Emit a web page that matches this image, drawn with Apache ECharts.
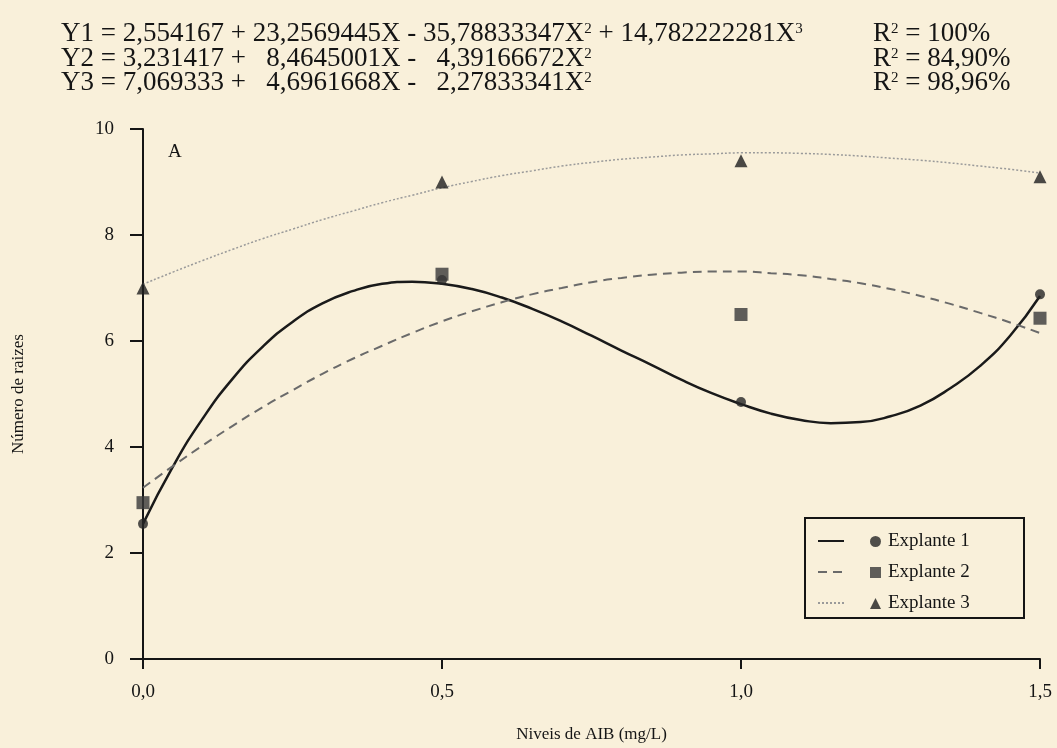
<!DOCTYPE html>
<html>
<head>
<meta charset="utf-8">
<script src="https://cdn.jsdelivr.net/npm/echarts@6/dist/echarts.min.js"></script>
<style>
html,body{margin:0;padding:0;background:#f9f0da;}
#c{width:1057px;height:748px;}
</style>
</head>
<body>
<div id="c"></div>
<script>
// Observed points
const levels = [0.0, 0.5, 1.0, 1.5];
const explante1 = [2.55, 7.15, 4.85, 6.88];
const explante2 = [2.95, 7.26, 6.5, 6.43];
const explante3 = [7.0, 9.0, 9.4, 9.1];
// Fitted curves, every 0.05
const fitX = [0.00,0.05,0.10,0.15,0.20,0.25,0.30,0.35,0.40,0.45,0.50,0.55,0.60,0.65,0.70,0.75,
              0.80,0.85,0.90,0.95,1.00,1.05,1.10,1.15,1.20,1.25,1.30,1.35,1.40,1.45,1.50];
const curve1 = [2.55,3.63,4.54,5.29,5.89,6.36,6.71,6.94,7.08,7.12,7.08,6.98,6.82,6.61,6.37,6.10,
                5.82,5.55,5.27,5.02,4.81,4.63,4.51,4.45,4.47,4.58,4.78,5.11,5.53,6.10,6.85];
const curve2 = [3.23,3.64,4.03,4.40,4.75,5.07,5.38,5.66,5.91,6.15,6.37,6.56,6.73,6.88,7.00,7.11,
                7.19,7.25,7.29,7.31,7.31,7.28,7.24,7.17,7.09,6.98,6.85,6.70,6.53,6.35,6.15];
const curve3 = [7.07,7.30,7.52,7.73,7.93,8.11,8.29,8.45,8.61,8.75,8.89,9.01,9.12,9.21,9.30,9.37,
                9.43,9.47,9.51,9.53,9.55,9.55,9.54,9.52,9.49,9.45,9.41,9.36,9.30,9.24,9.17];
const yTicks = [0, 2, 4, 6, 8, 10];
const xTicks = ['0,0', '0,5', '1,0', '1,5'];
const seriesNames = ['Explante 1', 'Explante 2', 'Explante 3'];
const equations = [
  'Y1 = 2,554167 + 23,2569445X - 35,78833347X{s|2} + 14,782222281X{s|3}',
  'Y2 = 3,231417 +   8,4645001X -   4,39166672X{s|2}',
  'Y3 = 7,069333 +   4,6961668X -   2,27833341X{s|2}'
];
const r2 = ['R{s|2} = 100%', 'R{s|2} = 84,90%', 'R{s|2} = 98,96%'];

const pair = (xs, ys) => xs.map((x, i) => [x, ys[i]]);
const serif = '"Liberation Serif", "DejaVu Serif", serif';
const ink = '#151515';
const richSup = {s: {fontSize: 15, fontFamily: serif, color: ink, verticalAlign: 'top', lineHeight: 24.5}};

const chart = echarts.init(document.getElementById('c'));
chart.setOption({
  backgroundColor: '#f9f0da',
  animation: false,
  textStyle: {fontFamily: serif, color: ink},
  title: [
    {left: 61, top: 22, padding: 0, text: equations.join('\n'),
     textStyle: {fontFamily: serif, fontSize: 27, fontWeight: 'normal', color: ink, lineHeight: 24.5, rich: richSup}},
    {left: 873, top: 22, padding: 0, text: r2.join('\n'),
     textStyle: {fontFamily: serif, fontSize: 27, fontWeight: 'normal', color: ink, lineHeight: 24.5, rich: richSup}}
  ],
  grid: {left: 143, right: 17, top: 129, bottom: 87},
  xAxis: {
    type: 'value', min: 0, max: 1.5, interval: 0.5,
    name: 'Niveis de AIB (mg/L)', nameLocation: 'middle', nameGap: 67,
    nameTextStyle: {fontFamily: serif, fontSize: 17, color: ink},
    axisLine: {show: true, lineStyle: {color: ink, width: 2}},
    axisTick: {show: true, length: 10, lineStyle: {color: ink, width: 2}},
    axisLabel: {fontFamily: serif, fontSize: 19, color: ink, margin: 24,
      formatter: v => xTicks[Math.round(v / 0.5)]},
    splitLine: {show: false}
  },
  yAxis: {
    type: 'value', min: 0, max: 10, interval: 2,
    name: 'Número de raizes', nameLocation: 'middle', nameGap: 116,
    nameTextStyle: {fontFamily: serif, fontSize: 17, color: ink},
    axisLine: {show: true, onZero: false, lineStyle: {color: ink, width: 2}},
    axisTick: {show: true, length: 13, lineStyle: {color: ink, width: 2}},
    axisLabel: {fontFamily: serif, fontSize: 19, color: ink, margin: 29,
      formatter: v => yTicks.includes(v) ? String(v) : ''},
    splitLine: {show: false}
  },
  legend: [
    {orient: 'vertical', left: 812, top: 526, itemGap: 13, itemWidth: 26, itemHeight: 20,
     data: ['Y1', 'Y2', 'Y3'], formatter: () => '', selectedMode: false,
     itemStyle: {opacity: 0, color: 'transparent', borderWidth: 0},
     textStyle: {fontSize: 1}},
    {orient: 'vertical', left: 865, top: 527, itemGap: 12, itemWidth: 11, itemHeight: 11,
     data: seriesNames, selectedMode: false,
     textStyle: {fontFamily: serif, fontSize: 19, color: ink, padding: [0,0,0,2]}}
  ],
  graphic: [
    {type: 'rect', shape: {x: 805, y: 518, width: 219, height: 100},
     style: {fill: 'none', stroke: ink, lineWidth: 2}, z: 10},
    {type: 'text', left: 168, top: 143,
     style: {text: 'A', font: '19px "Liberation Serif"', fill: ink}}
  ],
  series: [
    {name: 'Y1', type: 'line', data: pair(fitX, curve1), smooth: 0.5, symbol: 'none',
     lineStyle: {color: '#1a1a1a', width: 2.5, type: 'solid'}, itemStyle: {color: '#1a1a1a'}},
    {name: 'Y2', type: 'line', data: pair(fitX, curve2), smooth: 0.5, symbol: 'none',
     lineStyle: {color: '#6a6a6a', width: 2, type: [9, 6]}, itemStyle: {color: '#6a6a6a'}},
    {name: 'Y3', type: 'line', data: pair(fitX, curve3), smooth: 0.5, symbol: 'none',
     lineStyle: {color: '#9a9a9a', width: 1.5, type: [2, 2]}, itemStyle: {color: '#9a9a9a'}},
    {name: seriesNames[0], type: 'scatter', data: pair(levels, explante1), symbol: 'circle', symbolSize: 10,
     itemStyle: {color: '#262626'}, z: 5},
    {name: seriesNames[1], type: 'scatter', data: pair(levels, explante2), symbol: 'rect', symbolSize: 13,
     itemStyle: {color: '#383838'}, z: 5},
    {name: seriesNames[2], type: 'scatter', data: pair(levels, explante3), symbol: 'triangle', symbolSize: 13,
     itemStyle: {color: '#1e1e1e'}, z: 5}
  ]
});
</script>
</body>
</html>
